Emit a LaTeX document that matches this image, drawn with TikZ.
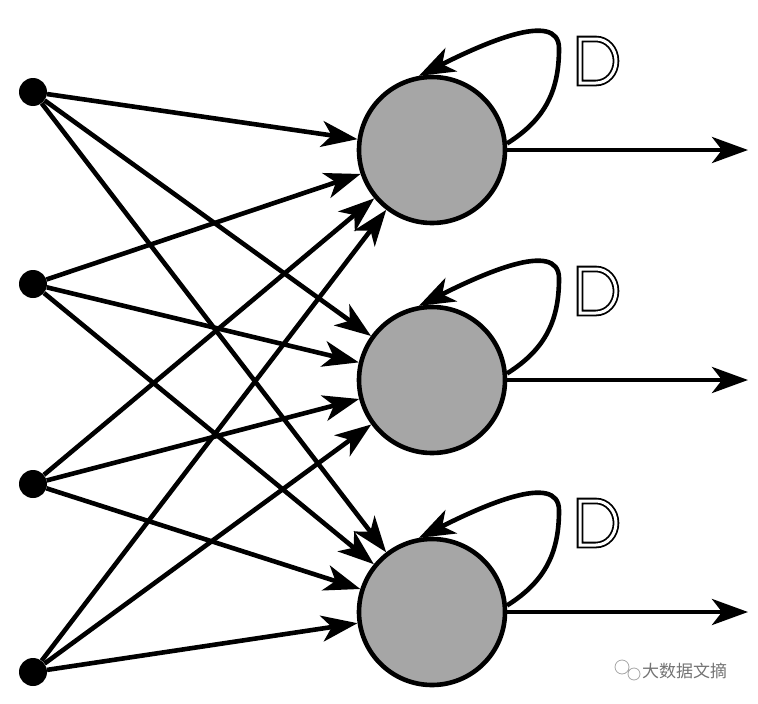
\documentclass[tikz,border=0pt]{standalone}
\usepackage{fontspec}
\newfontfamily\cjk{Noto Sans CJK SC}
\usetikzlibrary{arrows.meta}
\begin{document}
\begin{tikzpicture}[x=1pt,y=-1pt,
  conn/.style={line width=4.6pt,-{Stealth[length=36pt,width=26pt,inset=10pt]}},
  neuron/.style={circle,draw,line width=4.6pt,fill=black!35,minimum size=146pt,inner sep=0},
  inp/.style={circle,fill=black,minimum size=28pt,inner sep=0},
  dd/.style={double,double distance=3pt,line width=1.8pt,line join=miter}]
\useasboundingbox (0,0) rectangle (758,704);
\foreach \i/\y in {1/92,2/284,3/484,4/672} \node[inp] (i\i) at (33,\y) {};
\foreach \j/\y in {1/150,2/380,3/612} {
  \node[neuron] (n\j) at (432,\y) {};
  \coordinate (o\j) at (748,\y);
  \draw[conn] (n\j.east) -- (o\j);
  \draw[conn] (n\j.5) .. controls +(40,-25) and +(0,40) .. ++(52,-95) .. controls +(0,-40) and +(60,-30) .. (n\j.100);
  \draw[dd] (580,\y-111) -- (596,\y-111) arc[start angle=-90,end angle=90,x radius=20,y radius=22] -- (580,\y-67) -- cycle;
}
\foreach \i in {1,...,4} \foreach \j in {1,2,3} \draw[conn] (i\i) -- (n\j);
\node[text=black!55,font=\cjk\fontsize{17}{17}\selectfont,anchor=west,inner sep=0] (wm) at (642,671) {大数据文摘};
\draw[black!35,line width=0.8pt] (622,667) circle (7pt) (634,674) circle (6pt);
\end{tikzpicture}
\end{document}
